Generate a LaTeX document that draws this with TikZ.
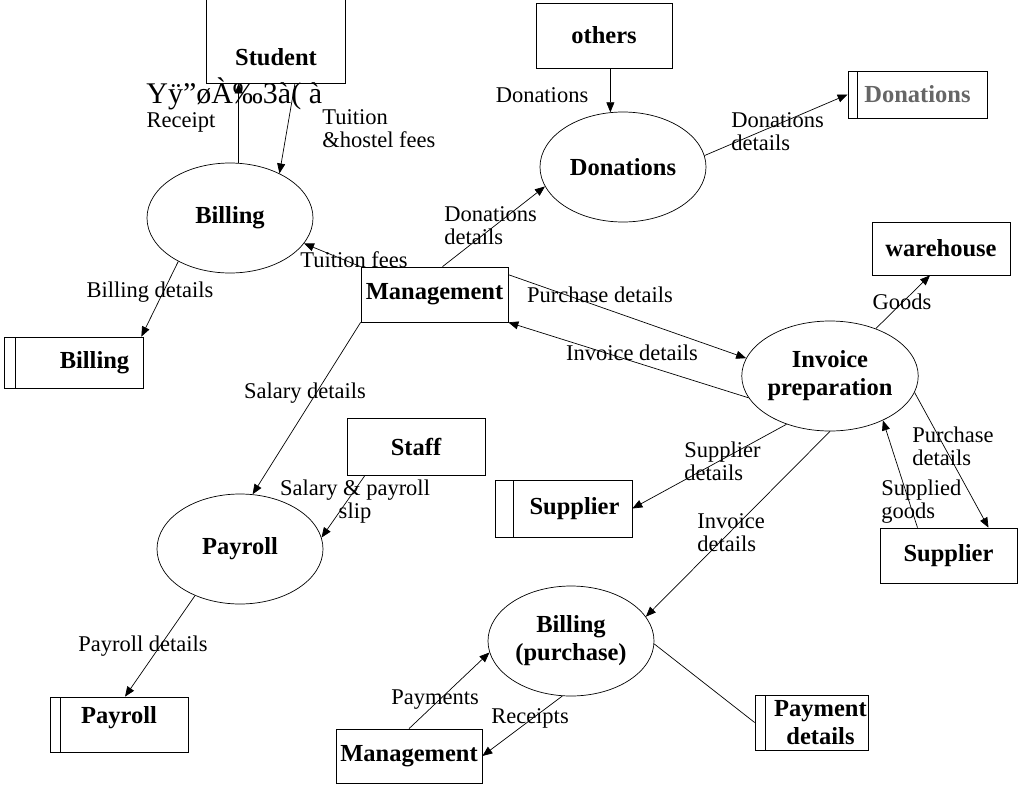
\documentclass[tikz,border=0pt]{standalone}
\usepackage{fontspec}
\setmainfont{Liberation Serif}
\usetikzlibrary{shapes.geometric,arrows.meta}

\tikzset{
  bold/.style={font=\fontsize{24.5}{28}\selectfont\bfseries},
  lab/.style={font=\fontsize{22.5}{23}\selectfont, inner sep=0pt},
  entity/.style={draw, rectangle, bold, inner sep=3pt},
  store/.style={draw, rectangle, bold, inner sep=3pt, align=center,
    path picture={\draw ([xshift=#1]path picture bounding box.north west)
      -- ([xshift=#1]path picture bounding box.south west);}},
  store/.default=10pt,
  proc/.style={draw, ellipse, bold, inner sep=0pt, align=center,
    minimum width=166pt, minimum height=110pt},
  flow/.style={-{Triangle[length=10pt,width=8pt]}},
}

\begin{document}
\begin{tikzpicture}[x=1pt, y=-1pt, line width=0.7pt]
\useasboundingbox (0,0) rectangle (1018,785);

% outside entities
\node[entity, minimum width=139pt, text height=64pt, text depth=15pt] (student) at (276,40.5) {Student};
\node[entity, minimum width=136pt, minimum height=65pt] (others) at (604,35.5) {others};
\node[entity, minimum width=147pt, minimum height=55pt] (mgmt) at (434.5,294.5) {Management};
\node[entity, minimum width=138pt, minimum height=53pt] (warehouse) at (941,248.5) {warehouse};
\node[entity, minimum width=138pt, minimum height=57pt] (staff) at (416,446.5) {Staff};
\node[entity, minimum width=137pt, minimum height=55pt] (supplier) at (948.5,555.5) {Supplier};
\node[entity, minimum width=146pt, minimum height=54pt] (mgmtb) at (409,756) {Management};

% data stores
\node[store=11pt, minimum width=139pt, minimum height=51pt,
  label={[bold, xshift=21pt]center:Billing}] (billstore) at (73.5,362.5) {};
\node[store=18pt, minimum width=137pt, minimum height=57pt,
  label={[bold, xshift=11pt]center:Supplier}] (supstore) at (563.5,508.5) {};
\node[store, minimum width=138pt, minimum height=55pt,
  label={[bold, yshift=7pt]center:Payroll}] (payrollstore) at (119,724.5) {};
\node[store=9pt, minimum width=139pt, minimum height=47pt, text=black!60] (donstore) at (917.5,94.5) {Donations};
\node[store, minimum width=113pt, minimum height=55pt,
  label={[bold, align=center, xshift=9pt]center:{Payment\\details}}] (paystore) at (811.5,722.5) {};

% processes
\node[proc] (billing) at (230,218) {Billing};
\node[proc] (donations) at (623,167) {Donations};
\node[proc] (invoice) at (830,376) {Invoice\\preparation};
\node[proc] (payroll) at (240,549) {Payroll};
\node[proc] (billp) at (571,641) {Billing\\(purchase)};

\node[anchor=base west, inner sep=0pt, font=\fontsize{30}{32}\selectfont] (junk) at (146,103) {Yÿ"øÀ‰3à( à};

% flows
\draw[flow] (billing.81) -- (billing.81 |- student.south);
\draw[flow] ([xshift=19pt]student.south) -- (billing.42);
\draw[flow] (billing.220) -- ([xshift=-2pt]billstore.north east);
\draw[flow] (mgmt.north west) -- (billing.341);
\draw[flow] ([xshift=8pt]mgmt.north) -- (donations.194);
\draw[flow] (donations.103 |- others.south) -- (donations.103);
\draw[flow] (donations.8) -- (donstore.west);
\draw[flow] ([yshift=-8pt]mgmt.north east) -- (invoice.168);
\draw[flow] (invoice.195) -- (mgmt.south east);
\draw[flow] (invoice.46) -- ([xshift=-11pt]warehouse.south);
\draw[flow] (invoice.228) -- (supstore.east);
\draw[flow] (invoice.south) -- (billp.18);
\draw[flow] (invoice.349) -- ([xshift=40pt]supplier.north);
\draw[flow] ([xshift=-31pt]supplier.north) -- (invoice.320);
\draw[flow] (mgmt.south west) -- (payroll.77);
\draw[flow] ([xshift=-51pt]staff.south) -- (payroll.8);
\draw[flow] (payroll.226) -- ([xshift=6pt]payrollstore.north);
\draw[flow] (mgmtb.north) -- (billp.188);
\draw[flow] (billp.261) -- (mgmtb.east);
\draw (billp.358) -- (paystore.west);

% flow labels
\node[lab] (lreceipt) at (181,122) {Receipt};
\node[lab, anchor=west, align=left] (lfees) at (322,129) {Tuition\\\&hostel fees};
\node[lab] (lbilldet) at (150,292) {Billing details};
\node[lab] (ltuition) at (354,260) {Tuition fees};
\node[lab, anchor=west, align=left] (ldondet) at (444,226) {Donations\\details};
\node[lab] (ldon) at (542,95) {Donations};
\node[lab, anchor=west, align=left] (ldonstore) at (731,132) {Donations\\details};
\node[lab] (lpurch) at (600,295) {Purchase details};
\node[lab] (linv) at (632,353) {Invoice details};
\node[lab] (lgoods) at (902,302) {Goods};
\node[lab, anchor=west, align=left] (lsupdet) at (684,461) {Supplier\\details};
\node[lab, anchor=west, align=left] (linvdet) at (697,533) {Invoice\\details};
\node[lab, anchor=west, align=left] (lpurchdet) at (912,446) {Purchase\\details};
\node[lab, anchor=west, align=left] (lsupplied) at (881,502) {Supplied\\goods};
\node[lab] (lsalary) at (305,393) {Salary details};
\node[lab, align=center] (lslip) at (355,502) {Salary \& payroll\\slip};
\node[lab] (lpayroll) at (143,646) {Payroll details};
\node[lab] (lpayments) at (435,700) {Payments};
\node[lab] (lreceipts) at (530,718) {Receipts};

\end{tikzpicture}
\end{document}
